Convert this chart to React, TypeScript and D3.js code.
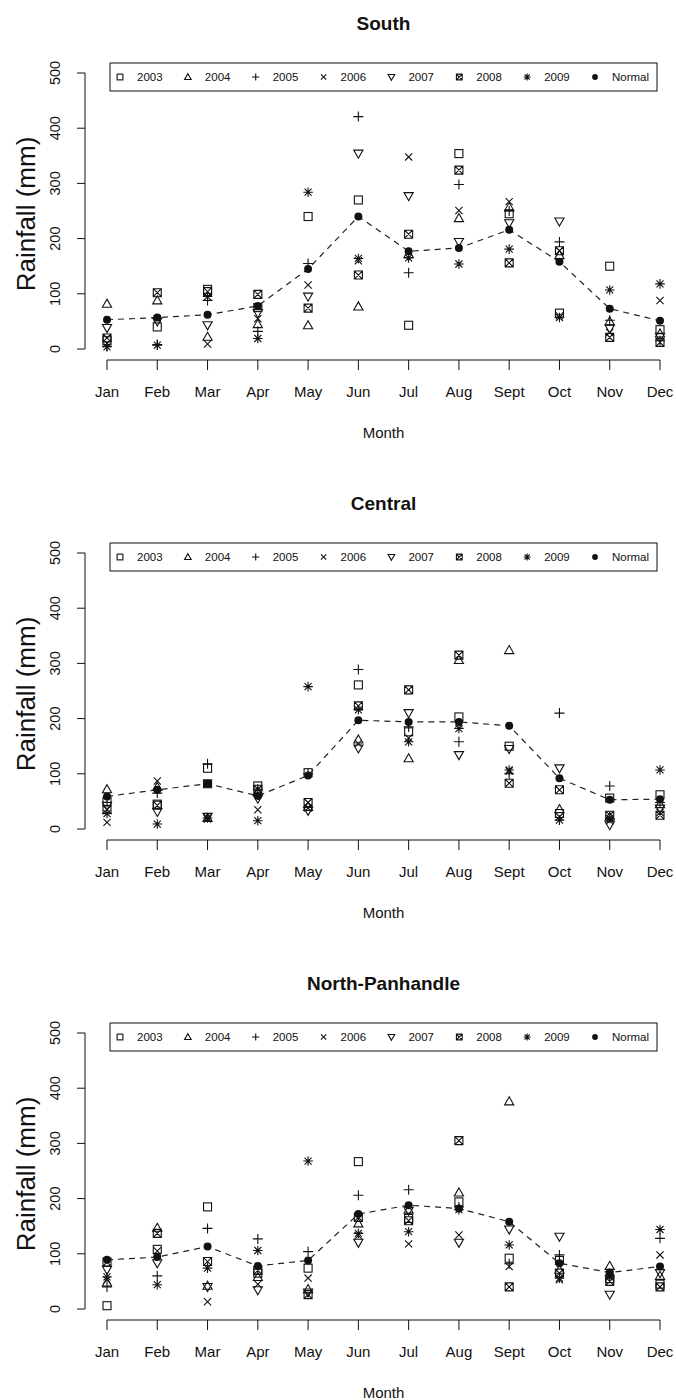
import * as d3 from "d3";

const months = ["Jan", "Feb", "Mar", "Apr", "May", "Jun", "Jul", "Aug", "Sept", "Oct", "Nov", "Dec"];
const seriesNames = ["2003", "2004", "2005", "2006", "2007", "2008", "2009", "Normal"];
const seriesShapes = ["square", "triangle", "plus", "cross", "triangleDown", "squareX", "asterisk", "dot"];
const yTicks = [0, 100, 200, 300, 400, 500];

const regions = ["South", "Central", "North-Panhandle"];

// rows: 2003, 2004, 2005, 2006, 2007, 2008, 2009, Normal
const south = [
  [15, 40, 108, 75, 240, 270, 43, 354, 245, 65, 150, 35],
  [82, 88, 22, 45, 43, 77, 172, 237, 257, 170, 50, 28],
  [5, 8, 88, 32, 155, 421, 138, 298, 250, 194, 52, 15],
  [10, 55, 9, 55, 116, 160, 348, 251, 267, 60, 30, 88],
  [38, 50, 43, 65, 95, 354, 277, 194, 228, 231, 37, 22],
  [20, 102, 104, 99, 74, 134, 208, 324, 156, 178, 21, 12],
  [4, 7, 95, 19, 284, 164, 165, 154, 181, 57, 107, 118],
  [53, 57, 62, 78, 145, 240, 177, 183, 216, 158, 73, 51],
];

const central = [
  [50, 45, 110, 78, 102, 261, 176, 203, 150, 28, 56, 62],
  [72, 76, 20, 68, 40, 162, 128, 306, 324, 36, 22, 45],
  [48, 65, 118, 72, 100, 289, 185, 158, 100, 210, 78, 48],
  [12, 87, 18, 35, 38, 155, 165, 190, 105, 22, 15, 30],
  [42, 31, 22, 55, 33, 146, 210, 134, 145, 110, 7, 37],
  [35, 43, 82, 72, 48, 223, 252, 315, 83, 71, 25, 25],
  [28, 9, 20, 15, 258, 216, 158, 182, 107, 16, 19, 107],
  [59, 71, 82, 60, 97, 197, 194, 194, 187, 92, 53, 54],
];

const northPanhandle = [
  [6, 108, 185, 65, 74, 267, 164, 194, 92, 88, 55, 45],
  [48, 147, 42, 58, 36, 155, 180, 211, 376, 71, 78, 60],
  [40, 60, 146, 127, 104, 206, 216, 185, 82, 98, 60, 128],
  [53, 105, 13, 45, 56, 133, 118, 134, 77, 53, 62, 98],
  [71, 83, 40, 34, 30, 120, 178, 120, 144, 131, 26, 65],
  [85, 137, 86, 70, 26, 166, 160, 305, 40, 65, 50, 40],
  [58, 44, 74, 106, 268, 137, 140, 180, 116, 56, 58, 144],
  [89, 94, 113, 78, 88, 172, 188, 182, 158, 83, 66, 77],
];

const regionData = [south, central, northPanhandle];

const W = 676;
const H = 1400;
const PANEL_H = 480;
const INK = "#111";
const FONT = "'Liberation Sans', Arial, Helvetica, sans-serif";

function Marker({ shape, x, y, s = 1 }: { shape: string; x: number; y: number; s?: number }) {
  const common = { fill: "none", stroke: INK, strokeWidth: 1.1 };
  const h = 4 * s;
  switch (shape) {
    case "square":
      return <rect x={x - h} y={y - h} width={2 * h} height={2 * h} {...common} />;
    case "triangle": {
      const t = 4.6 * s;
      return <path d={`M${x},${y - t}L${x + t},${y + t * 0.75}L${x - t},${y + t * 0.75}Z`} {...common} />;
    }
    case "triangleDown": {
      const t = 4.6 * s;
      return <path d={`M${x},${y + t}L${x + t},${y - t * 0.75}L${x - t},${y - t * 0.75}Z`} {...common} />;
    }
    case "plus": {
      const p = 5 * s;
      return <path d={`M${x - p},${y}H${x + p}M${x},${y - p}V${y + p}`} {...common} />;
    }
    case "cross": {
      const c = 3.6 * s;
      return <path d={`M${x - c},${y - c}L${x + c},${y + c}M${x - c},${y + c}L${x + c},${y - c}`} {...common} />;
    }
    case "squareX":
      return (
        <path
          d={`M${x - h},${y - h}h${2 * h}v${2 * h}h${-2 * h}ZM${x - h},${y - h}L${x + h},${y + h}M${x - h},${y + h}L${x + h},${y - h}`}
          {...common}
        />
      );
    case "asterisk": {
      const p = 4.8 * s;
      const c = 3.5 * s;
      return (
        <path
          d={`M${x - p},${y}H${x + p}M${x},${y - p}V${y + p}M${x - c},${y - c}L${x + c},${y + c}M${x - c},${y + c}L${x + c},${y - c}`}
          {...common}
        />
      );
    }
    default:
      return <circle cx={x} cy={y} r={4 * s} fill={INK} />;
  }
}

function Panel({ title, data, top }: { title: string; data: number[][]; top: number }) {
  const x = d3.scalePoint<string>().domain(months).range([107, 660]);
  const y = d3.scaleLinear().domain([0, 500]).range([349, 73]);
  const normalLine = d3
    .line<number>()
    .x((_, i) => x(months[i]) as number)
    .y((d) => y(d));

  const legendX = d3.scaleLinear().domain([0, 7]).range([120, 595]);

  return (
    <g transform={`translate(0,${top})`} fontFamily={FONT} fill={INK}>
      <text x={383.5} y={29.5} textAnchor="middle" fontSize={19} fontWeight="bold">
        {title}
      </text>

      {/* y axis */}
      <line x1={85} x2={85} y1={y(0)} y2={y(500)} stroke={INK} />
      {yTicks.map((t) => (
        <g key={t}>
          <line x1={77} x2={85} y1={y(t)} y2={y(t)} stroke={INK} />
          <text transform={`translate(60,${y(t)}) rotate(-90)`} textAnchor="middle" fontSize={14.5}>
            {t}
          </text>
        </g>
      ))}
      <text transform={`translate(35,214) rotate(-90)`} textAnchor="middle" fontSize={26}>
        Rainfall (mm)
      </text>

      {/* x axis */}
      <line x1={x(months[0])} x2={x(months[11])} y1={360} y2={360} stroke={INK} />
      {months.map((m) => (
        <g key={m}>
          <line x1={x(m)} x2={x(m)} y1={360} y2={370} stroke={INK} />
          <text x={x(m)} y={397} textAnchor="middle" fontSize={15}>
            {m}
          </text>
        </g>
      ))}
      <text x={383.5} y={437.5} textAnchor="middle" fontSize={15}>
        Month
      </text>

      {/* legend */}
      <rect x={110} y={63} width={547} height={28} fill="white" stroke={INK} strokeWidth={1} />
      {seriesNames.map((name, i) => (
        <g key={name}>
          <Marker shape={seriesShapes[i]} x={legendX(i)} y={77} s={0.72} />
          <text x={legendX(i) + 17} y={81} fontSize={11.5}>
            {name}
          </text>
        </g>
      ))}

      {/* points */}
      {data.slice(0, 7).map((row, si) =>
        row.map((v, mi) => (
          <Marker key={`${si}-${mi}`} shape={seriesShapes[si]} x={x(months[mi]) as number} y={y(v)} />
        )),
      )}
      <path d={normalLine(data[7]) || ""} fill="none" stroke="#222" strokeWidth={1.2} strokeDasharray="6,5" />
      {data[7].map((v, mi) => (
        <Marker key={`n-${mi}`} shape="dot" x={x(months[mi]) as number} y={y(v)} />
      ))}
    </g>
  );
}

export default function App() {
  return (
    <svg
      width={W}
      height={H}
      viewBox={`0 0 ${W} ${H}`}
      style={{ position: "absolute", left: 0, top: 0, background: "white" }}
    >
      <rect width={W} height={H} fill="white" />
      {regions.map((r, i) => (
        <Panel key={r} title={r} data={regionData[i]} top={i * PANEL_H} />
      ))}
    </svg>
  );
}
